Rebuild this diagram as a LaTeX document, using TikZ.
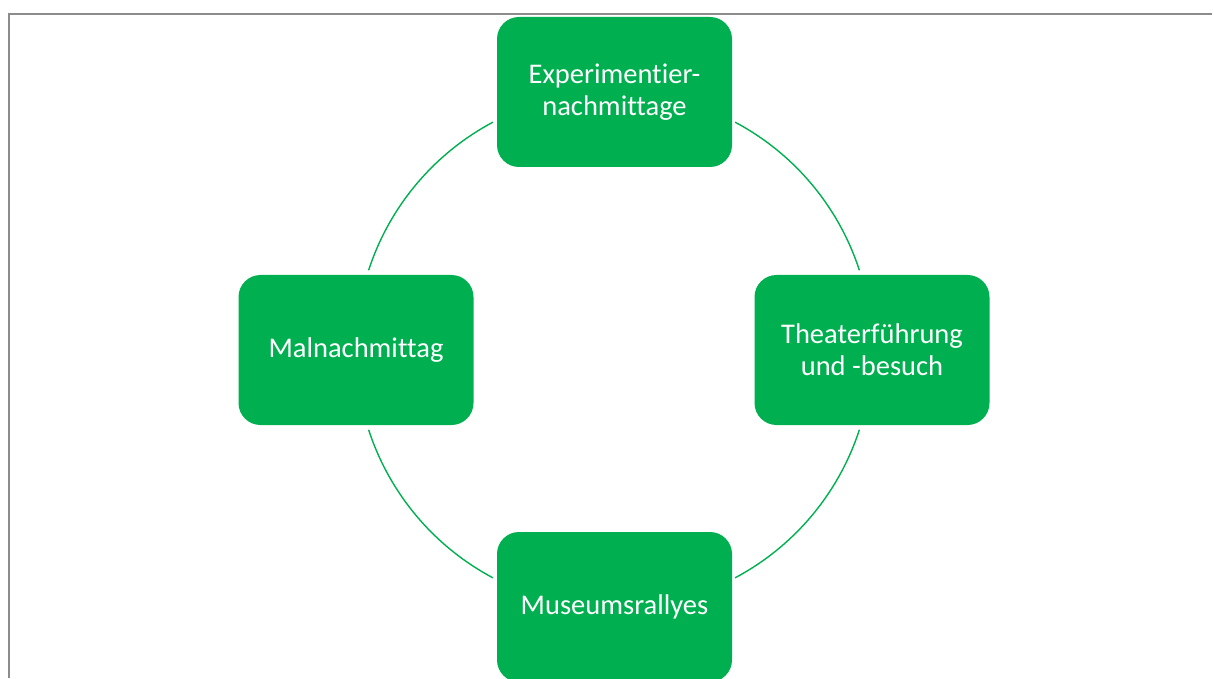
\documentclass[tikz,border=0pt]{standalone}
\usepackage{fontspec}
\setmainfont{Carlito}[Ligatures={NoCommon,NoContextual}]
\usetikzlibrary{calc}
\definecolor{boxgreen}{HTML}{00B050}
\definecolor{framegray}{HTML}{8C8C8C}
\tikzset{
  stepbox/.style={rectangle, rounded corners=22pt, fill=boxgreen, draw=none,
    minimum width=235pt, minimum height=150pt, text=white, align=center,
    font=\fontsize{28.5}{32}\selectfont},
  ring/.style={draw=boxgreen, line width=1.4pt},
  frame/.style={draw=framegray, line width=2pt}
}
\begin{document}
\begin{tikzpicture}[x=1pt,y=1pt]
\useasboundingbox (0,0) rectangle (1214,678);
\clip (0,0) rectangle (1214,678);
\coordinate (tl) at (9,664);
\coordinate (tr) at (1212,664);
\coordinate (bl) at (9,0);
\draw[frame] (bl) -- (tl) -- (tr);
\coordinate (c) at (614,328);
\node[stepbox] (top) at (614.5,586) {Experimentier-\\nachmittage};
\node[stepbox] (right) at (872,328) {Theaterführung\\und -besuch};
\node[stepbox] (bottom) at (614.5,71) {Museumsrallyes};
\node[stepbox] (left) at (356,328) {Malnachmittag};
\draw[ring] ($(c)+(18:258)$) arc[start angle=18,end angle=62,radius=258];
\draw[ring] ($(c)+(118:258)$) arc[start angle=118,end angle=162,radius=258];
\draw[ring] ($(c)+(198:258)$) arc[start angle=198,end angle=242,radius=258];
\draw[ring] ($(c)+(298:258)$) arc[start angle=298,end angle=342,radius=258];
\end{tikzpicture}
\end{document}
